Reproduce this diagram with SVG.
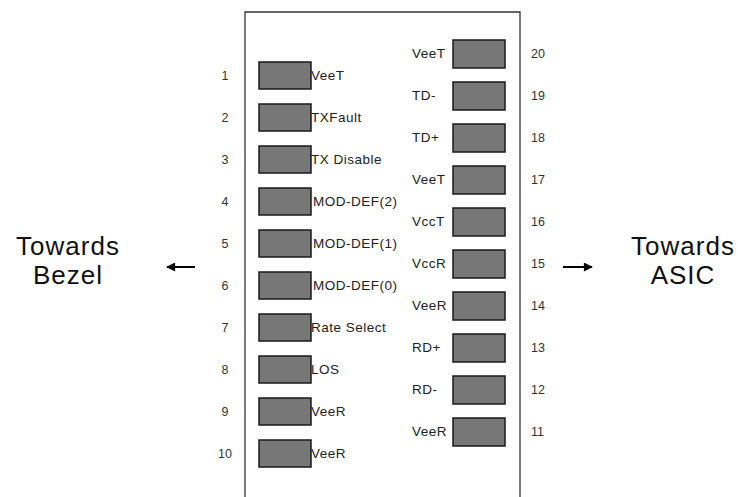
<svg xmlns="http://www.w3.org/2000/svg" width="738" height="497" viewBox="0 0 738 497">
<defs>
<style>
.pad{fill:#777;stroke:#1a1a1a;stroke-width:1.5}
.lbl{font-family:"Liberation Sans",Arial,sans-serif;font-size:13.5px;letter-spacing:0.5px;fill:#222}
.num{font-family:"Liberation Sans",Arial,sans-serif;font-size:12.5px;fill:#333}
.big{font-family:"Liberation Sans",Arial,sans-serif;font-size:26px;letter-spacing:1px;fill:#111;text-anchor:middle}
</style>
<marker id="ah" viewBox="0 0 10 10" refX="9" refY="5" markerWidth="10" markerHeight="9" markerUnits="userSpaceOnUse" orient="auto"><path d="M0,0 L10,5 L0,10 z" fill="#000"/></marker>
</defs>
<rect width="738" height="497" fill="#fff"/>
<g id="connector-body">
<path d="M245,500 V12 H520 V500" fill="none" stroke="#333" stroke-width="1.3"/>
</g>
<g id="pin1"><rect class="pad" x="259" y="62" width="52" height="27"/><text class="num" x="225" y="80" text-anchor="middle">1</text><text class="lbl" x="311" y="80">VeeT</text></g>
<g id="pin2"><rect class="pad" x="259" y="104" width="52" height="27"/><text class="num" x="225" y="122" text-anchor="middle">2</text><text class="lbl" x="311" y="122">TXFault</text></g>
<g id="pin3"><rect class="pad" x="259" y="146" width="52" height="27"/><text class="num" x="225" y="164" text-anchor="middle">3</text><text class="lbl" x="311" y="164">TX Disable</text></g>
<g id="pin4"><rect class="pad" x="259" y="188" width="52" height="27"/><text class="num" x="225" y="206" text-anchor="middle">4</text><text class="lbl" x="313" y="206">MOD-DEF(2)</text></g>
<g id="pin5"><rect class="pad" x="259" y="230" width="52" height="27"/><text class="num" x="225" y="248" text-anchor="middle">5</text><text class="lbl" x="313" y="248">MOD-DEF(1)</text></g>
<g id="pin6"><rect class="pad" x="259" y="272" width="52" height="27"/><text class="num" x="225" y="290" text-anchor="middle">6</text><text class="lbl" x="313" y="290">MOD-DEF(0)</text></g>
<g id="pin7"><rect class="pad" x="259" y="314" width="52" height="27"/><text class="num" x="225" y="332" text-anchor="middle">7</text><text class="lbl" x="311" y="332">Rate Select</text></g>
<g id="pin8"><rect class="pad" x="259" y="356" width="52" height="27"/><text class="num" x="225" y="374" text-anchor="middle">8</text><text class="lbl" x="311" y="374">LOS</text></g>
<g id="pin9"><rect class="pad" x="259" y="398" width="52" height="27"/><text class="num" x="225" y="416" text-anchor="middle">9</text><text class="lbl" x="311" y="416">VeeR</text></g>
<g id="pin10"><rect class="pad" x="259" y="440" width="52" height="27"/><text class="num" x="225" y="458" text-anchor="middle">10</text><text class="lbl" x="311" y="458">VeeR</text></g>
<g id="pin20"><rect class="pad" x="453" y="40" width="52" height="28"/><text class="lbl" x="412" y="58">VeeT</text><text class="num" x="531" y="58">20</text></g>
<g id="pin19"><rect class="pad" x="453" y="82" width="52" height="28"/><text class="lbl" x="412" y="100">TD-</text><text class="num" x="531" y="100">19</text></g>
<g id="pin18"><rect class="pad" x="453" y="124" width="52" height="28"/><text class="lbl" x="412" y="142">TD+</text><text class="num" x="531" y="142">18</text></g>
<g id="pin17"><rect class="pad" x="453" y="166" width="52" height="28"/><text class="lbl" x="412" y="184">VeeT</text><text class="num" x="531" y="184">17</text></g>
<g id="pin16"><rect class="pad" x="453" y="208" width="52" height="28"/><text class="lbl" x="412" y="226">VccT</text><text class="num" x="531" y="226">16</text></g>
<g id="pin15"><rect class="pad" x="453" y="250" width="52" height="28"/><text class="lbl" x="412" y="268">VccR</text><text class="num" x="531" y="268">15</text></g>
<g id="pin14"><rect class="pad" x="453" y="292" width="52" height="28"/><text class="lbl" x="412" y="310">VeeR</text><text class="num" x="531" y="310">14</text></g>
<g id="pin13"><rect class="pad" x="453" y="334" width="52" height="28"/><text class="lbl" x="412" y="352">RD+</text><text class="num" x="531" y="352">13</text></g>
<g id="pin12"><rect class="pad" x="453" y="376" width="52" height="28"/><text class="lbl" x="412" y="394">RD-</text><text class="num" x="531" y="394">12</text></g>
<g id="pin11"><rect class="pad" x="453" y="418" width="52" height="28"/><text class="lbl" x="412" y="436">VeeR</text><text class="num" x="531" y="436">11</text></g>
<g id="bezel"><text class="big" x="68" y="255">Towards</text><text class="big" x="68" y="284">Bezel</text></g>
<g id="asic"><text class="big" x="683" y="255">Towards</text><text class="big" x="683" y="284">ASIC</text></g>
<g id="connectors" stroke="#000" stroke-width="2" fill="none">
<line x1="195" y1="267" x2="167" y2="267" marker-end="url(#ah)"/>
<line x1="563" y1="267" x2="592" y2="267" marker-end="url(#ah)"/>
</g>
</svg>
